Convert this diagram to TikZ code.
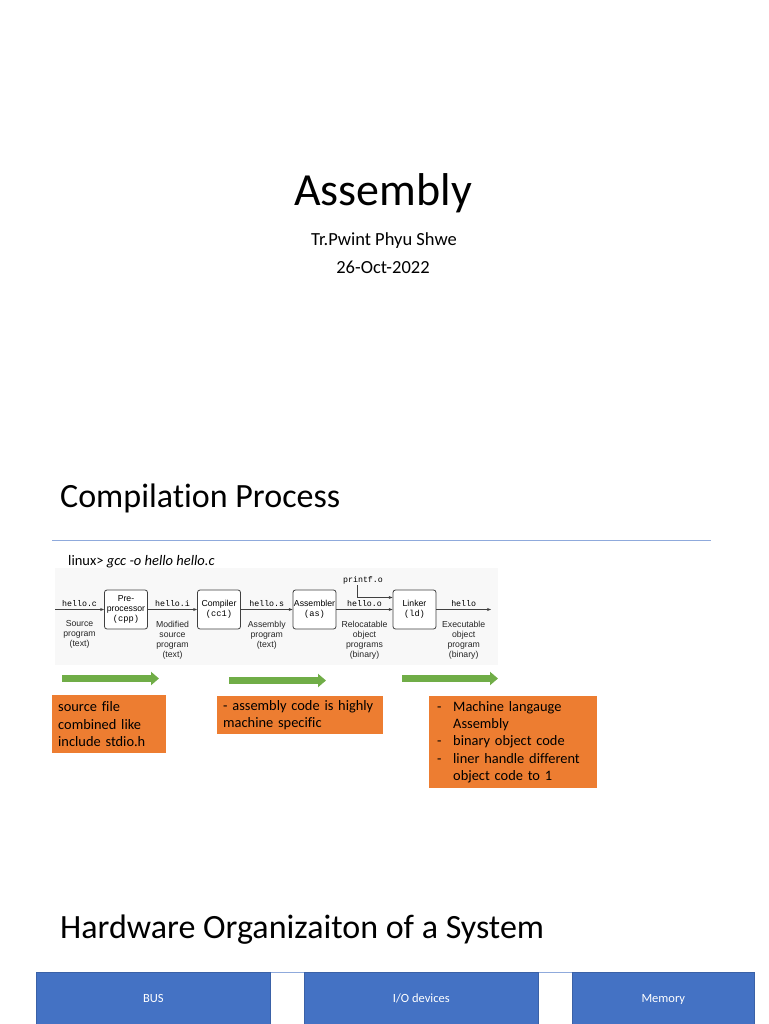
\documentclass[tikz,border=0pt]{standalone}
\usepackage{fontspec}
\setmainfont{Carlito}[Ligatures=NoCommon]
\newfontfamily\diagsans{Liberation Sans}
\newfontfamily\diagmono{Liberation Mono}
\usetikzlibrary{arrows.meta, positioning}
\definecolor{slideblue}{RGB}{68, 114, 196}
\definecolor{slideorange}{RGB}{237, 125, 49}
\definecolor{slidegreen}{RGB}{112, 173, 71}
\definecolor{ruleblue}{RGB}{143, 170, 220}
\definecolor{figgray}{RGB}{248, 248, 248}

\tikzset{
  stagebox/.style={draw=black!75, line width=0.8pt, fill=white, rounded corners=2.5pt, minimum width=43pt, minimum height=39pt, inner sep=0pt, align=center, font=\fontsize{8.7}{10}\selectfont\diagsans},
  filelabel/.style={above, inner sep=2.5pt, text=black, font=\fontsize{8.3}{9}\selectfont\diagmono},
  desclabel/.style={below, inner sep=0pt, yshift=-11pt, align=center, text=black!85, font=\fontsize{8.7}{10}\selectfont\diagsans},
  flow/.style={-{Stealth[length=4pt, width=3pt]}, line width=0.5pt, black!75},
  notebox/.style={fill=slideorange, anchor=north west, align=left, inner ysep=0pt, font=\fontsize{14.4}{17.3}\selectfont},
  greenarrow/.style={-{Triangle[length=8pt, width=13pt]}, line width=7pt, slidegreen},
  hwbox/.style={fill=slideblue, draw=slideblue!85!black, line width=0.6pt, anchor=north west, minimum height=54pt, text height=9pt, text depth=2.5pt, text=white, font=\fontsize{12.5}{14}\selectfont},
}

\begin{document}
\begin{tikzpicture}[x=1pt, y=-1pt]
  \useasboundingbox (0,0) rectangle (768,1024);

  % title slide
  \node[anchor=base, font=\fontsize{46}{50}\selectfont] (title) at (383,206) {Assembly};
  \node[anchor=base, font=\fontsize{18.5}{22}\selectfont] (author) at (384,245.5) {Tr.Pwint Phyu Shwe};
  \node[anchor=base, font=\fontsize{18.5}{22}\selectfont] (date) at (383,273) {26-Oct-2022};

  % compilation process
  \node[anchor=base west, inner sep=0pt, font=\fontsize{34}{38}\selectfont] (comphead) at (60,507) {Compilation Process};
  \draw[ruleblue, line width=1pt] (52,540) -- (711,540);

  \fill[figgray] (55,568) rectangle (498,665);
  \node[anchor=base west, inner sep=0pt, font=\fontsize{14.5}{17}\selectfont] (cmd) at (68,565) {linux> \textit{gcc -o hello hello.c}};

  \node[stagebox] (cpp) at (126,609.5) {Pre-\\processor\\{\diagmono(cpp)}};
  \node[stagebox] (cc1) at (219,609.5) {Compiler\\{\diagmono(cc1)}};
  \node[stagebox] (as) at (314.5,609.5) {Assembler\\{\diagmono(as)}};
  \node[stagebox] (ld) at (414.5,609.5) {Linker\\{\diagmono(ld)}};
  \coordinate (src) at (55,609.5);
  \coordinate (dst) at (491,609.5);

  \draw[flow] (src) -- node[filelabel] (hc) {hello.c} node[desclabel] (dc) {Source\\program\\(text)} (cpp);
  \draw[flow] (cpp) -- node[filelabel] (hi) {hello.i} node[desclabel] (di) {Modified\\source\\program\\(text)} (cc1);
  \draw[flow] (cc1) -- node[filelabel] (hs) {hello.s} node[desclabel] (ds) {Assembly\\program\\(text)} (as);
  \draw[flow] (as) -- node[filelabel] (ho) {hello.o} node[desclabel] (do) {Relocatable\\object\\programs\\(binary)} (ld);
  \draw[flow] (ld) -- node[filelabel] (hx) {hello} node[desclabel] (dx) {Executable\\object\\program\\(binary)} (dst);

  \node[font=\fontsize{8.3}{9}\selectfont\diagmono, inner sep=1pt] (printf) at (363,580) {printf.o};
  \draw[flow] ([xshift=-6pt]printf.south) |- ([yshift=12pt]ld.west);

  % green arrows and notes
  \draw[greenarrow] (62,678.5) -- (159,678.5);
  \draw[greenarrow] (229,680.5) -- (326,680.5);
  \draw[greenarrow] (402,678.5) -- (498,678.5);

  \node[notebox, minimum height=58pt, text width=102pt, inner xsep=6pt] (note1) at (52,695) {source file\\combined like\\include stdio.h};
  \node[notebox, minimum height=38pt, text width=154pt, inner xsep=6pt] (note2) at (217,696) {- assembly code is highly\\machine specific};
  \node[notebox, minimum height=92pt, text width=152pt, inner xsep=8pt] (note3) at (429,696) {\makebox[16pt][l]{-}Machine langauge\\\hspace*{16pt}Assembly\\\makebox[16pt][l]{-}binary object code\\\makebox[16pt][l]{-}liner handle different\\\hspace*{16pt}object code to 1};

  % hardware organization
  \node[anchor=base west, inner sep=0pt, font=\fontsize{34}{38}\selectfont] (hwhead) at (60,938) {Hardware Organizaiton of a System};
  \node[hwbox, minimum width=234pt] (bus) at (36,972) {BUS};
  \node[hwbox, minimum width=234pt] (io) at (304,972) {I/O devices};
  \node[hwbox, minimum width=182pt] (mem) at (572,972) {Memory};
  \draw[ruleblue, line width=0.8pt] (bus.north east) -- (io.north west) (io.north east) -- (mem.north west);
\end{tikzpicture}
\end{document}
